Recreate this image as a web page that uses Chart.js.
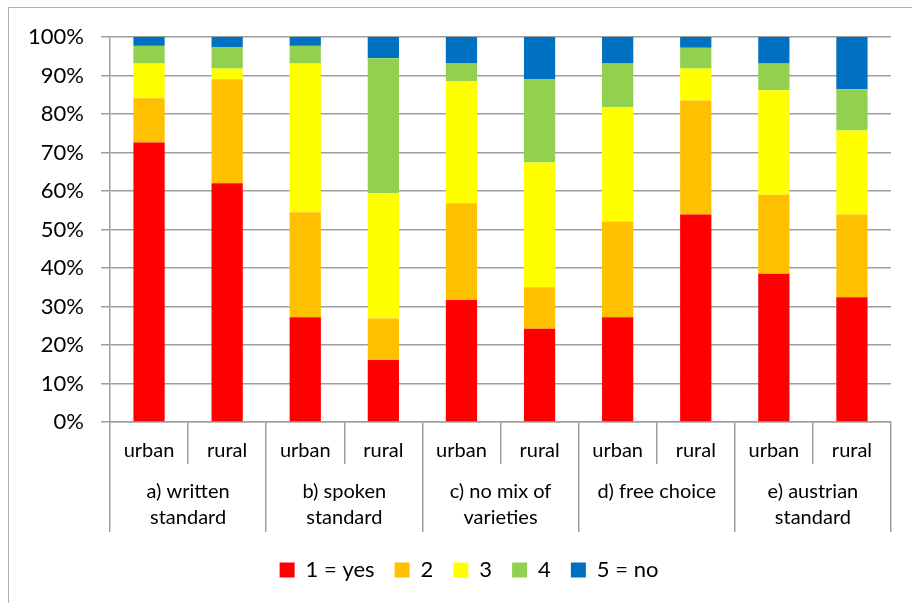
<!DOCTYPE html>
<html>
<head>
<meta charset="utf-8">
<script src="https://cdn.jsdelivr.net/npm/chart.js@4/dist/chart.umd.min.js"></script>
<style>
  html, body { margin: 0; padding: 0; background: #fff; }
  .wrap { position: relative; width: 912px; height: 603px; overflow: hidden; }
  .frame { position: absolute; left: 8px; top: 7px; width: 960px; height: 660px;
           border-left: 1.5px solid #b0b0b0; border-top: 1.5px solid #b0b0b0; }
  canvas { position: absolute; left: 0; top: 0; }
</style>
</head>
<body>
<div class="wrap">
  <div class="frame"></div>
  <canvas id="myChart" width="912" height="603"></canvas>
</div>
<script>
"use strict";

//////////////////////////////
// Data (percent of answers)
const areas = ["urban", "rural", "urban", "rural", "urban", "rural", "urban", "rural", "urban", "rural"];
const groups = [
  ["a) written", "standard"],
  ["b) spoken", "standard"],
  ["c) no mix of", "varieties"],
  ["d) free choice"],
  ["e) austrian", "standard"],
];
const seriesNames = ["1 = yes", "2", "3", "4", "5 = no"];
const yes = [72.6, 62.0, 27.2, 16.1, 31.7, 24.2, 27.2, 53.9, 38.5, 32.4];
const two = [11.5, 27.0, 27.3, 10.8, 25.1, 10.8, 24.9, 29.6, 20.5, 21.5];
const three = [9.0, 2.8, 38.6, 32.5, 31.8, 32.4, 29.7, 8.3, 27.2, 21.8];
const four = [4.6, 5.5, 4.6, 35.1, 4.5, 21.7, 11.3, 5.4, 6.9, 10.7];
const no = [2.3, 2.7, 2.3, 5.5, 6.9, 10.9, 6.9, 2.8, 6.9, 13.6];
const yTicks = [0, 10, 20, 30, 40, 50, 60, 70, 80, 90, 100];

//////////////////////////////
// Styling
const colors = ["#FF0000", "#FFC000", "#FFFF00", "#92D050", "#0070C0"];
const gridColor = "#9f9f9f";
const font = "Lato";

const values = [yes, two, three, four, no];
const datasets = values.map((data, i) => ({
  label: seriesNames[i],
  data: data,
  backgroundColor: colors[i],
  borderWidth: 0,
  barPercentage: 0.4,
  categoryPercentage: 1,
}));

// y labels stick out left of the (narrow) y box, so stop them being clipped
const unclipY = {
  id: "unclipY",
  afterLayout(chart) {
    chart.scales.y.left = 0;
  },
};

const ctx = document.getElementById("myChart").getContext("2d");
const chart = new Chart(ctx, {
  type: "bar",
  data: { labels: areas, datasets: datasets },
  plugins: [unclipY],
  options: {
    responsive: false,
    animation: false,
    layout: { padding: { left: 47, right: 21, top: 37, bottom: 12 } },
    plugins: {
      tooltip: { enabled: false },
      legend: {
        position: "bottom",
        labels: {
          boxWidth: 15,
          boxHeight: 15,
          padding: 20,
          color: "#000",
          font: { family: font, size: 22 },
        },
      },
    },
    scales: {
      x: {
        stacked: true,
        afterFit: (scale) => { scale.height = 42; },
        grid: {
          offset: true,
          drawOnChartArea: false,
          tickLength: 42,
          color: gridColor,
          lineWidth: 1.5,
        },
        border: { color: gridColor, width: 1.5 },
        ticks: {
          padding: -25,
          color: "#000",
          maxRotation: 0,
          autoSkip: false,
          font: { family: font, size: 20 },
        },
      },
      x2: {
        type: "category",
        position: "bottom",
        labels: groups,
        afterFit: (scale) => { scale.height = 75; },
        grid: {
          offset: true,
          drawOnChartArea: false,
          tickLength: 68,
          color: gridColor,
          lineWidth: 1.5,
        },
        border: { display: false },
        ticks: {
          padding: -53,
          color: "#000",
          maxRotation: 0,
          autoSkip: false,
          font: { family: font, size: 20, lineHeight: 1.28 },
        },
      },
      y: {
        stacked: true,
        min: 0,
        max: 100,
        afterFit: (scale) => { scale.width = 63; },
        afterBuildTicks: (scale) => { scale.ticks = yTicks.map((v) => ({ value: v })); },
        grid: { color: gridColor, lineWidth: 1.5, tickLength: 9 },
        border: { color: gridColor, width: 1.5 },
        ticks: {
          padding: 17,
          color: "#000",
          font: { family: font, size: 22 },
          callback: (v) => v + "%",
        },
      },
    },
  },
});
</script>
</body>
</html>
